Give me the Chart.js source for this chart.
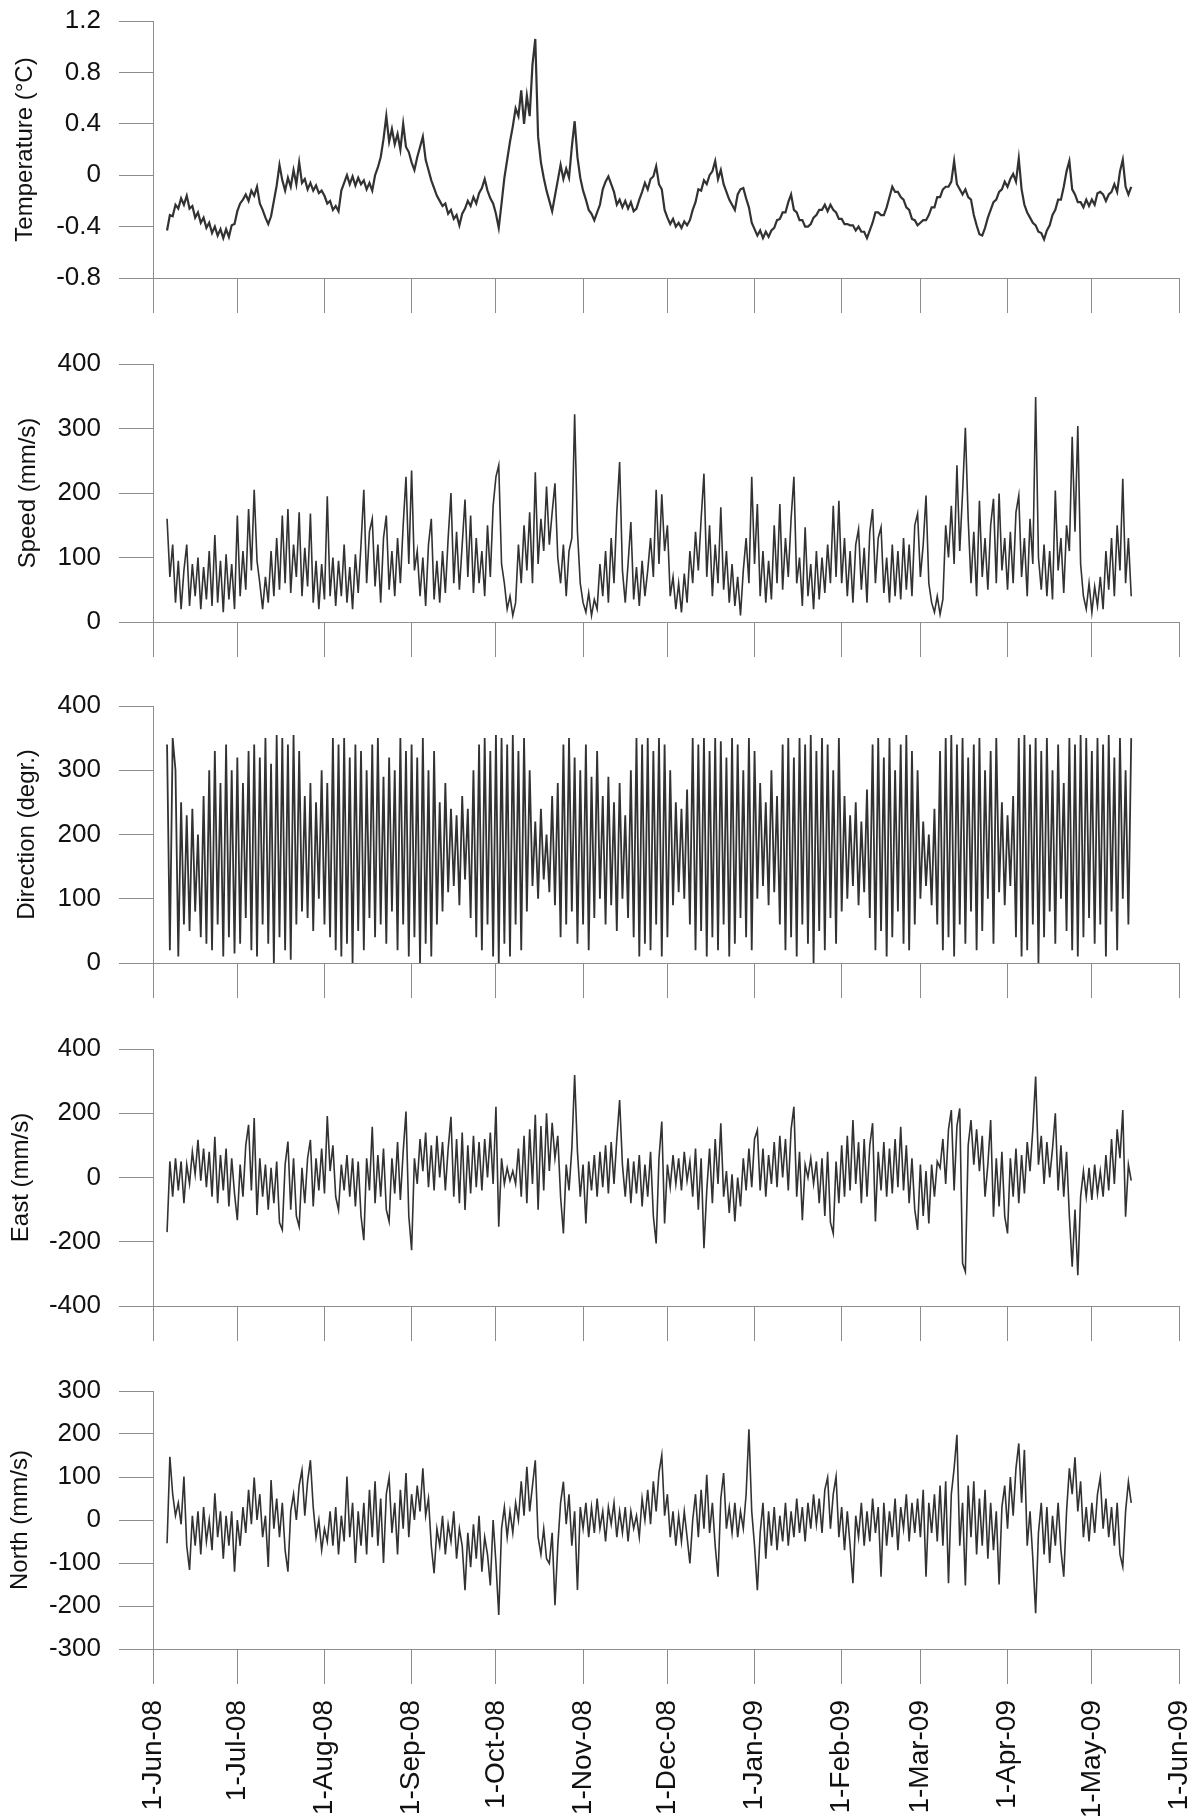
<!DOCTYPE html>
<html>
<head>
<meta charset="utf-8">
<script src="https://cdn.jsdelivr.net/npm/chart.js@4.4.0/dist/chart.umd.min.js"></script>
<style>
  body { margin: 0; background: #fff; }
  #wrap { position: relative; width: 1195px; height: 1816px; overflow: hidden; }
  #wrap canvas { position: absolute; left: 0; }
</style>
</head>
<body>
<div id="wrap">
  <canvas id="c1" width="1195" height="343" style="top:0px"></canvas>
  <canvas id="c2" width="1195" height="343" style="top:343px"></canvas>
  <canvas id="c3" width="1195" height="343" style="top:685px"></canvas>
  <canvas id="c4" width="1195" height="343" style="top:1028px"></canvas>
  <canvas id="c5" width="1195" height="446" style="top:1370px"></canvas>
</div>
<script>
// one value per day, first value = 5-Jun-08 (day 5 after 1-Jun-08)
var startDay = 5;
var monthDays = [0, 30, 61, 92, 122, 153, 183, 214, 245, 273, 304, 334, 365];
var monthLabels = ['1-Jun-08', '1-Jul-08', '1-Aug-08', '1-Sep-08', '1-Oct-08', '1-Nov-08', '1-Dec-08',
                   '1-Jan-09', '1-Feb-09', '1-Mar-09', '1-Apr-09', '1-May-09', '1-Jun-09'];

var temperature = [
  -0.43,-0.31,-0.32,-0.23,-0.26,-0.18,-0.23,-0.16,-0.26,-0.24,-0.33,-0.29,-0.37,-0.33,-0.41,-0.37,-0.45,-0.40,-0.47,-0.42,-0.49,-0.42,-0.48,-0.39,-0.38,
  -0.28,-0.22,-0.19,-0.15,-0.20,-0.12,-0.16,-0.09,-0.22,-0.27,-0.33,-0.38,-0.32,-0.20,-0.08,0.08,-0.04,-0.12,-0.02,-0.09,0.04,-0.07,0.10,-0.06,-0.03,-0.11,-0.06,-0.12,-0.08,-0.14,-0.12,
  -0.16,-0.22,-0.20,-0.27,-0.24,-0.28,-0.12,-0.06,0.00,-0.07,-0.01,-0.08,-0.02,-0.07,-0.04,-0.11,-0.06,-0.12,0.00,0.06,0.14,0.28,0.46,0.26,0.36,0.24,0.32,0.20,0.40,0.22,0.18,
  0.10,0.04,0.14,0.22,0.30,0.12,0.04,-0.04,-0.10,-0.16,-0.20,-0.24,-0.22,-0.30,-0.27,-0.34,-0.31,-0.39,-0.30,-0.26,-0.20,-0.24,-0.17,-0.22,-0.14,-0.10,-0.03,-0.12,-0.18,-0.22,
  -0.30,-0.41,-0.22,-0.02,0.12,0.26,0.38,0.52,0.46,0.66,0.40,0.62,0.46,0.86,1.06,0.30,0.10,-0.02,-0.12,-0.20,-0.28,-0.16,-0.04,0.08,-0.03,0.05,-0.02,0.22,0.42,0.14,-0.02,
  -0.12,-0.19,-0.27,-0.30,-0.35,-0.29,-0.23,-0.11,-0.05,-0.01,-0.07,-0.13,-0.23,-0.19,-0.25,-0.20,-0.26,-0.21,-0.28,-0.26,-0.19,-0.13,-0.06,-0.11,-0.03,-0.01,0.07,-0.07,-0.11,-0.27,
  -0.33,-0.38,-0.34,-0.40,-0.37,-0.41,-0.36,-0.39,-0.35,-0.27,-0.21,-0.11,-0.12,-0.04,-0.07,0.00,0.03,0.11,-0.03,0.04,-0.07,-0.13,-0.19,-0.23,-0.27,-0.15,-0.11,-0.10,-0.18,-0.25,-0.37,
  -0.42,-0.47,-0.43,-0.49,-0.44,-0.48,-0.43,-0.41,-0.35,-0.34,-0.29,-0.29,-0.21,-0.15,-0.27,-0.29,-0.35,-0.35,-0.40,-0.40,-0.38,-0.33,-0.31,-0.27,-0.27,-0.23,-0.28,-0.23,-0.27,-0.29,-0.34,
  -0.34,-0.38,-0.38,-0.39,-0.39,-0.43,-0.40,-0.44,-0.44,-0.49,-0.43,-0.37,-0.29,-0.29,-0.31,-0.31,-0.25,-0.17,-0.09,-0.13,-0.13,-0.17,-0.19,-0.25,-0.27,-0.34,-0.35,-0.39,
  -0.37,-0.35,-0.35,-0.31,-0.25,-0.25,-0.17,-0.17,-0.11,-0.09,-0.09,-0.05,0.11,-0.07,-0.11,-0.15,-0.11,-0.17,-0.19,-0.31,-0.39,-0.46,-0.47,-0.41,-0.33,-0.27,-0.21,-0.19,-0.13,-0.11,-0.05,
  -0.09,-0.03,0.01,-0.05,0.13,-0.11,-0.23,-0.29,-0.33,-0.37,-0.39,-0.44,-0.45,-0.50,-0.43,-0.39,-0.31,-0.27,-0.19,-0.19,-0.09,0.03,0.11,-0.11,-0.15,-0.21,-0.21,-0.25,-0.19,-0.24,
  -0.19,-0.23,-0.14,-0.13,-0.15,-0.20,-0.15,-0.13,-0.07,-0.13,0.03,0.12,-0.09,-0.15,-0.09
];

var speed = [
  160,70,120,30,95,20,80,120,25,90,40,100,20,85,35,110,25,135,30,95,15,105,35,90,20,
  165,40,110,50,175,80,205,95,60,20,70,30,110,40,130,50,165,60,175,45,120,70,170,40,115,55,168,30,95,20,90,
  35,195,40,100,25,95,40,120,30,85,20,105,45,120,205,60,140,160,55,120,30,130,165,50,110,40,130,60,150,225,90,
  235,80,110,40,100,25,120,160,35,95,30,110,45,130,200,60,140,50,120,190,70,165,45,130,60,110,40,150,70,180,
  225,243,90,60,20,40,10,30,120,60,150,80,170,60,232,90,160,110,210,120,170,215,100,60,120,40,110,130,322,140,60,
  30,15,45,10,35,20,90,40,110,30,130,60,170,248,80,30,90,155,35,85,25,95,40,80,130,70,205,90,198,110,
  150,40,70,20,60,15,75,30,110,60,140,80,160,230,70,150,40,120,60,178,50,110,30,90,25,70,10,80,130,60,225,
  90,183,40,110,30,95,35,150,60,183,50,130,70,160,225,60,100,25,147,40,90,20,110,35,100,45,120,60,180,70,188,
  60,130,40,110,30,120,144,50,115,30,140,175,60,130,147,45,100,30,120,40,110,35,130,50,120,40,150,168,
  70,120,196,60,30,15,40,12,35,150,100,180,90,243,110,200,301,160,60,140,40,188,70,130,50,150,191,60,199,80,130,
  50,140,60,170,196,70,130,40,160,90,349,100,50,120,40,110,35,204,80,130,45,150,110,287,140,304,90,40,20,60,
  15,55,25,70,20,110,50,130,40,150,80,222,60,130,40
];

var direction = [
  340,20,350,300,10,250,60,230,50,240,80,200,40,260,30,300,20,330,60,280,10,340,40,300,15,
  320,30,280,70,330,20,340,10,320,60,350,30,310,0,355,40,350,20,340,5,355,60,330,80,260,70,280,50,250,100,300,
  60,280,40,350,20,340,10,350,30,320,0,340,50,330,20,300,70,340,40,350,60,290,30,320,80,300,20,350,60,330,10,
  340,40,320,0,350,30,300,10,330,60,250,80,280,110,240,120,230,90,260,130,240,70,300,40,340,20,350,60,330,10,
  355,0,350,30,340,10,355,60,330,20,350,80,300,120,220,100,240,130,200,110,260,90,280,40,340,60,350,80,320,30,300,
  60,340,20,290,70,330,100,260,60,290,90,250,50,280,100,230,70,300,40,350,10,340,30,350,20,330,60,350,10,340,
  40,300,90,250,110,240,100,270,60,350,20,340,50,350,10,330,40,350,20,345,60,320,10,350,30,340,70,300,40,350,20,
  330,100,280,120,250,90,300,110,260,60,340,20,350,40,320,10,350,60,340,30,355,0,330,50,350,20,340,70,300,30,350,
  80,260,100,230,120,250,90,220,110,270,70,340,20,350,50,320,10,350,40,300,80,340,30,355,20,330,60,300,
  100,220,120,200,90,240,60,330,20,350,40,355,10,340,60,350,30,320,80,340,20,350,50,300,100,330,30,350,110,250,90,
  230,120,260,40,350,10,355,20,340,60,350,0,330,40,350,80,300,30,340,100,280,50,350,20,340,10,355,40,350,70,
  330,30,350,60,340,10,355,80,320,20,350,100,300,60,350
];

var east = [
  -170,50,-60,60,-40,50,-80,40,-20,80,10,117,-10,90,-30,80,-60,127,-80,70,-40,90,-90,60,-50,
  -133,40,-60,100,164,-40,185,-117,60,-60,40,-100,30,-80,50,-140,-163,40,112,-100,60,-120,-153,30,-80,60,117,-90,60,-40,90,
  -50,191,20,100,-60,-101,40,-40,70,-60,60,-90,50,-120,-195,60,-40,158,-80,70,-60,90,-100,-137,60,-50,110,-70,80,205,-120,
  -226,60,-20,120,20,140,-30,100,-40,130,0,110,-40,90,189,-60,120,-80,140,-101,100,-50,130,-30,110,-40,120,0,140,-20,
  220,-153,60,-20,30,-10,20,-20,90,-60,130,-80,150,-20,195,-100,160,-40,200,20,170,60,130,-60,-174,40,-40,90,319,80,-60,
  40,-143,50,-40,70,-60,80,-30,100,-50,110,-20,120,241,40,-60,60,-80,50,-50,70,-90,40,-60,80,-120,-205,60,174,-143,
  40,-30,70,-20,60,-40,80,-10,50,-60,90,-100,60,-220,-40,90,-80,120,-20,169,-60,20,-110,10,-137,0,-90,60,-40,90,-30,
  120,148,-40,90,-60,70,-20,110,-30,130,0,120,-40,150,220,-60,80,-133,40,0,60,-20,50,-80,60,-120,80,-140,-174,50,-80,
  100,-60,130,-40,179,-20,110,-80,120,-60,100,169,-137,80,-40,110,-60,90,-50,120,-30,158,-40,100,-80,60,-100,-163,
  40,-120,20,-143,40,-60,50,30,120,-20,150,210,-40,160,215,-267,-293,100,179,40,150,20,130,-60,40,179,-122,60,-90,80,-120,
  -174,60,-60,90,-80,70,-50,110,20,150,314,40,130,-20,110,0,90,200,-40,100,-60,80,-120,-278,-100,-304,-60,20,-60,30,
  -70,40,-50,20,-60,70,-40,120,-20,150,60,210,-122,40,-10
];

var north = [
  -54,147,60,10,40,-10,101,-60,-116,10,-60,20,-80,30,-50,0,-70,62,-40,20,-90,10,-60,20,-120,
  0,-60,30,-30,70,-10,99,0,60,-40,10,-109,93,-20,50,-40,40,-70,-120,20,60,0,80,116,10,90,139,30,-40,0,-70,
  -20,-50,20,-60,30,-80,10,-50,101,-40,40,-100,20,-60,40,-80,70,-40,90,-60,50,-100,60,99,-30,40,-80,70,-20,109,-40,
  60,0,80,20,120,10,50,-60,-124,-20,-60,10,-80,-10,-50,20,-90,-20,-60,-163,-30,-110,-10,-90,10,-120,-40,-80,-152,0,
  -100,-221,-20,30,-40,20,-30,40,0,90,10,124,20,80,139,-40,-80,-20,-90,-101,-30,-198,-60,40,89,-10,60,-60,20,-163,30,
  -20,40,-40,30,-30,50,-20,20,-50,30,-10,40,-40,20,-30,30,-50,20,-20,10,-40,50,0,70,-10,90,20,110,151,10,
  60,-40,20,-60,10,-50,20,-40,-101,0,60,-40,70,-20,105,-30,40,-60,-132,50,109,-20,30,-30,40,-40,20,-20,60,211,20,
  -60,-163,-30,40,-90,20,-60,30,-70,10,-50,40,-60,20,-40,50,-30,30,-50,40,-20,60,-10,50,-30,70,99,-20,60,101,-40,
  30,-70,20,-60,-147,10,-40,40,-60,20,-50,50,-30,30,-132,40,-60,20,-40,50,-70,30,-20,60,-50,40,-30,50,
  -40,70,-132,40,-30,60,-50,80,-60,90,-147,60,120,198,-60,40,-152,80,-40,90,-80,50,-60,70,-90,40,-70,20,-150,30,80,
  -20,100,10,120,178,40,163,-60,20,-90,-217,-30,40,-80,30,-100,10,-60,40,-70,-132,20,120,60,146,20,90,-40,30,-50,
  40,-30,60,99,-20,50,-40,30,-60,40,-80,-109,20,89,40
];

var FONT = '"Liberation Sans", Arial, Helvetica, sans-serif';
var axisColor = '#8c8c8c';
var textColor = '#111';

var panels = [
  { id: 'c1', title: 'Temperature (\u00B0C)', values: temperature, min: -0.8, max: 1.2, step: 0.2, major: 0.4, h: 257, titlePad: 11, lw: 2.2 },
  { id: 'c2', title: 'Speed (mm/s)', values: speed, min: 0, max: 400, step: 50, major: 100, h: 258, titlePad: 14, lw: 1.6 },
  { id: 'c3', title: 'Direction (degr.)', values: direction, min: 0, max: 400, step: 50, major: 100, h: 257, titlePad: 13, lw: 1.8 },
  { id: 'c4', title: 'East (mm/s)', values: east, min: -400, max: 400, step: 100, major: 200, h: 257, titlePad: 7, lw: 1.6 },
  { id: 'c5', title: 'North (mm/s)', values: north, min: -300, max: 300, step: 50, major: 100, h: 258, titlePad: 6, lw: 1.6 }
];

function isMajor(v, major) {
  var r = v / major;
  return Math.abs(r - Math.round(r)) < 1e-6;
}

function makeChart(p, showDates) {
  var cv = document.getElementById(p.id);
  var H = cv.height;
  var pts = p.values.map(function (v, i) { return { x: startDay + i, y: v }; });

  new Chart(cv, {
    type: 'line',
    data: {
      datasets: [{
        data: pts,
        borderColor: 'rgba(28,28,28,0.9)',
        borderWidth: p.lw,
        pointRadius: 0,
        tension: 0,
        fill: false
      }]
    },
    options: {
      responsive: false,
      animation: false,
      devicePixelRatio: 1,
      layout: { padding: { top: 21, right: 16, left: 0, bottom: 0 } },
      plugins: { legend: { display: false }, tooltip: { enabled: false } },
      scales: {
        x: {
          type: 'linear',
          min: 0,
          max: 365,
          afterBuildTicks: function (s) {
            s.ticks = monthDays.map(function (d) { return { value: d }; });
          },
          afterFit: function (s) {
            s.height = H - 21 - p.h;
            s.paddingLeft = 0;
            s.paddingRight = 0;
          },
          border: { display: true, color: axisColor, width: 1 },
          grid: { drawOnChartArea: false, drawTicks: true, tickLength: 35, color: axisColor, tickColor: axisColor, tickWidth: 1 },
          ticks: {
            display: showDates,
            autoSkip: false,
            minRotation: 90,
            maxRotation: 90,
            padding: 16,
            color: textColor,
            font: { family: FONT, size: 28 },
            callback: function (v) {
              var i = monthDays.indexOf(v);
              return i < 0 ? '' : monthLabels[i];
            }
          }
        },
        y: {
          min: p.min,
          max: p.max,
          afterFit: function (s) {
            s.width = 153;
            s.paddingTop = 0;
            s.paddingBottom = 0;
          },
          border: { display: true, color: axisColor, width: 1 },
          grid: {
            drawOnChartArea: false,
            drawTicks: true,
            tickLength: 34,
            color: axisColor,
            tickColor: axisColor,
            tickWidth: 1,
            tickBorderDash: function (ctx) {
              return ctx.tick && !isMajor(ctx.tick.value, p.major) ? [17, 17] : [];
            },
            tickBorderDashOffset: function (ctx) {
              return ctx.tick && !isMajor(ctx.tick.value, p.major) ? 17 : 0;
            }
          },
          ticks: {
            stepSize: p.step,
            padding: 18,
            color: textColor,
            font: { family: FONT, size: 26 },
            callback: function (v) {
              if (!isMajor(v, p.major)) return '';
              var r = Math.round(v * 10) / 10;
              return String(r);
            }
          },
          title: {
            display: true,
            text: p.title,
            color: textColor,
            font: { family: FONT, size: 24 },
            padding: { top: p.titlePad, bottom: 0 }
          }
        }
      }
    }
  });
}

panels.forEach(function (p, i) {
  makeChart(p, i === panels.length - 1);
});
</script>
</body>
</html>
